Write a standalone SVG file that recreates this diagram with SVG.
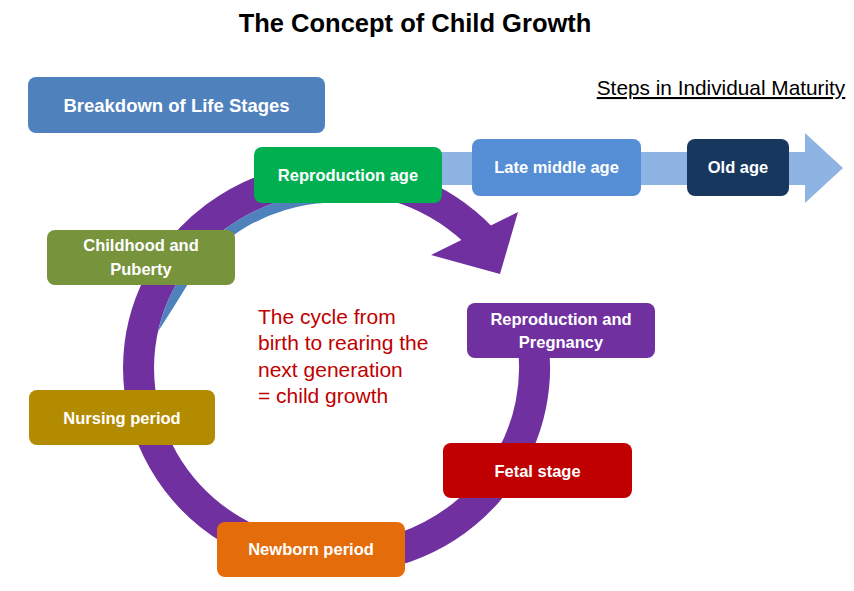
<svg xmlns="http://www.w3.org/2000/svg" width="854" height="591" viewBox="0 0 854 591">
  <style>
    text { font-family: "Liberation Sans", Arial, sans-serif; }
    .title { font-size: 25.5px; font-weight: bold; fill: #000; text-anchor: middle; }
    .box { stroke: none; }
    .lbl { font-size: 16.5px; font-weight: bold; fill: #fff; text-anchor: middle; }
    .red { font-size: 21px; fill: #c00000; }
  </style>
  <rect width="854" height="591" fill="#fff"/>

  <text class="title" x="415" y="32">The Concept of Child Growth</text>
  <text x="721" y="95" font-size="20.8" fill="#000" text-anchor="middle" text-decoration="underline">Steps in Individual Maturity</text>

  <g id="connectors">
    <path id="maturity-arrow" d="M430 152 L805 152 L805 133 L843 168 L805 203 L805 185 L430 185 Z" fill="#8eb4e3"/>
    <path id="cycle-ring" d="M527.8 318.6 A198 191 0 1 1 481.3 237.7" fill="none" stroke="#7030a0" stroke-width="31"/>
    <polygon id="cycle-head" points="431,255 518,212 500,274" fill="#7030a0"/>
    <path id="blue-tail" d="M327 192.7 A182.5 175.5 0 0 0 158 331.5 Q174.2 306.7 187.1 285.25 A172.5 165.5 0 0 1 327.5 202.7 Z" fill="#4f81bd"/>
  </g>

  <g id="breakdown">
    <rect class="box" x="28" y="77" width="297" height="56" rx="8" fill="#4f81bd"/>
    <text class="lbl" x="176.5" y="111.5" style="font-size:18.5px">Breakdown of Life Stages</text>
  </g>
  <g id="reproduction-age">
    <rect class="box" x="254" y="147" width="188" height="56" rx="8" fill="#00b050"/>
    <text class="lbl" x="348" y="181">Reproduction age</text>
  </g>
  <g id="late-middle-age">
    <rect class="box" x="472" y="139" width="169" height="57" rx="8" fill="#558ed5"/>
    <text class="lbl" x="556.5" y="173">Late middle age</text>
  </g>
  <g id="old-age">
    <rect class="box" x="687" y="139" width="102" height="57" rx="8" fill="#17375e"/>
    <text class="lbl" x="738" y="173">Old age</text>
  </g>
  <g id="childhood">
    <rect class="box" x="47" y="230" width="188" height="55" rx="8" fill="#77933c"/>
    <text class="lbl" x="141" y="251">Childhood and</text>
    <text class="lbl" x="141" y="275">Puberty</text>
  </g>
  <g id="nursing">
    <rect class="box" x="29" y="390" width="186" height="55" rx="8" fill="#b38b00"/>
    <text class="lbl" x="122" y="424">Nursing period</text>
  </g>
  <g id="newborn">
    <rect class="box" x="217" y="522" width="188" height="55" rx="8" fill="#e46c0a"/>
    <text class="lbl" x="311" y="555">Newborn period</text>
  </g>
  <g id="fetal">
    <rect class="box" x="443" y="443" width="189" height="55" rx="8" fill="#c00000"/>
    <text class="lbl" x="537.5" y="477">Fetal stage</text>
  </g>
  <g id="reproduction-pregnancy">
    <rect class="box" x="467" y="303" width="188" height="55" rx="8" fill="#7030a0"/>
    <text class="lbl" x="561" y="325">Reproduction and</text>
    <text class="lbl" x="561" y="348">Pregnancy</text>
  </g>

  <g id="cycle-note">
    <text class="red" x="258" y="324">The cycle from</text>
    <text class="red" x="258" y="350">birth to rearing the</text>
    <text class="red" x="258" y="377">next generation</text>
    <text class="red" x="258" y="403">= child growth</text>
  </g>
</svg>
